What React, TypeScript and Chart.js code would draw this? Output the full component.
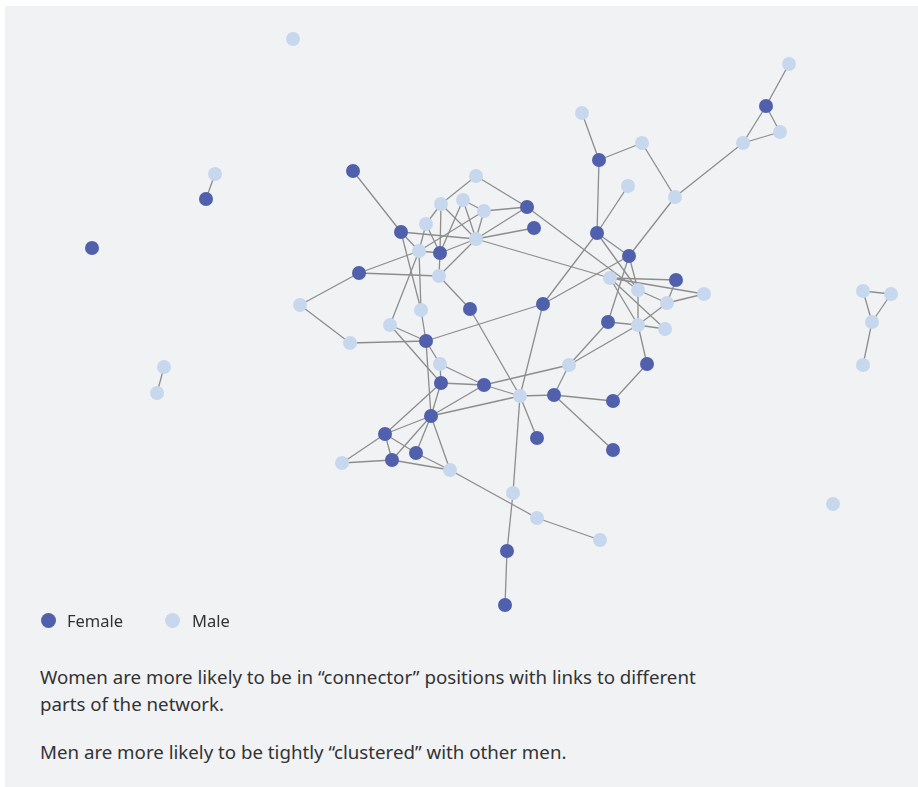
import React, { useEffect, useRef } from "react";
import { Chart, registerables } from "chart.js";

Chart.register(...registerables);

// Node table (layout coordinates)
const nodeIds = ["A","B","C","D","E","F1","G","H","I","J","K","L","N","O","P","Q","R","S","T","U","V","W","X","Y","Z","AA","AB","AC","AD","AE","AF","AG","AH","AI","AJ","AK","AL","AM","AN","AO","AP","AQ","AR","AS","AT","AU","AV","AW","AX","AY","AZ","BA","BB","BC","BD","BE","BF","BG","BH","BI","BJ","BK","BL","BM","BN","BO","BP","BQ","BR","BS","BT","BU"];
const nodeX = [353,476,441,463,484,527,534,426,401,476,419,440,359,439,300,470,543,421,390,350,426,766,780,743,789,582,599,642,628,675,597,629,610,676,638,704,667,608,638,665,647,569,440,441,484,431,385,416,392,342,450,520,554,613,537,613,513,537,600,507,505,293,215,206,92,164,157,863,891,872,863,833];
const nodeY = [171,176,204,200,211,207,228,224,232,239,251,253,273,276,305,309,304,310,325,343,341,106,132,143,64,113,160,143,186,197,233,256,278,280,290,294,303,322,325,329,364,365,364,383,385,416,434,453,460,463,470,396,395,401,438,450,493,518,540,551,605,39,174,199,248,367,393,291,294,322,365,504];
const nodeSex = ["F","M","M","M","M","F","F","M","F","M","M","F","F","M","M","F","F","M","M","M","F","F","M","M","M","M","F","M","M","M","F","F","M","F","M","M","M","F","M","M","F","M","M","F","F","F","F","F","F","M","M","M","F","F","F","F","M","M","M","F","F","M","M","F","F","M","M","M","M","M","M","M"];

const edges: [string, string][] = [
  ["A","I"],["B","C"],["B","F1"],["C","H"],["C","L"],["C","J"],["D","L"],["D","J"],["D","E"],
  ["E","F1"],["E","J"],["E","K"],["F1","J"],["F1","AJ"],["G","J"],["H","L"],["H","K"],["I","K"],
  ["I","J"],["I","S"],["K","S"],["K","T"],["K","N"],["K","L"],["L","O"],["L","J"],["N","O"],
  ["N","P"],["O","J"],["O","Q"],["P","U"],["U","V"],["S","V"],["T","V"],["T","AS"],["V","AR"],
  ["V","AU"],["V","R"],["AR","AS"],["AR","AT"],["AS","AT"],["AS","AU"],["AS","AV"],["AU","AT"],
  ["AU","BA"],["AU","AV"],["AU","AW"],["AU","AX"],["AU","AZ"],["AV","AW"],["AV","AX"],["AV","AY"],
  ["AW","AZ"],["AX","AY"],["AX","AZ"],["AZ","BG"],["BG","BH"],["AT","BA"],["AT","AQ"],["BA","BB"],
  ["BA","BD"],["BA","BF"],["BA","Q"],["BA","R"],["BB","AQ"],["BB","BC"],["BB","BE"],["BC","AP"],
  ["AP","AN"],["AQ","AM"],["AQ","AN"],["AN","AL"],["R","AF"],["R","AG"],["AF","AB"],["AF","AD"],
  ["AF","AG"],["AF","AJ"],["AG","AM"],["AG","AJ"],["AG","AE"],["AB","AA"],["AB","AC"],["AC","AE"],
  ["AE","Y"],["Y","W"],["Y","X"],["W","X"],["W","Z"],["J","AH"],["AH","AI"],["AH","AK"],["AH","AN"],
  ["AH","AO"],["AI","AL"],["AK","AL"],["AJ","AN"],["AJ","AL"],["AM","AN"],["AN","AO"],["BF","BI"],
  ["BI","BJ"],["BL","BM"],["BO","BP"],["BQ","BR"],["BQ","BS"],["BR","BS"],["BS","BT"]
];

const legendLabels = ["Female", "Male"];
const FEMALE = "#5060ad";
const MALE = "#c7d8ee";
const EDGE = "#8d8d8d";

const W = 918;
const H = 640;

function NetworkChart() {
  const ref = useRef<HTMLCanvasElement | null>(null);
  useEffect(() => {
    if (!ref.current) return;
    const pt = (id: string) => {
      const i = nodeIds.indexOf(id);
      return { x: nodeX[i], y: nodeY[i] };
    };
    const edgeSets = edges.map(([a, b]) => ({
      type: "scatter" as const,
      data: [pt(a), pt(b)],
      showLine: true,
      borderColor: EDGE,
      borderWidth: 1.3,
      pointRadius: 0,
      pointHoverRadius: 0,
      order: 2,
    }));
    const nodeSet = (sex: string, color: string, label: string) => ({
      type: "scatter" as const,
      label,
      data: nodeIds.map((id, i) => (nodeSex[i] === sex ? { x: nodeX[i], y: nodeY[i] } : null)).filter(Boolean),
      backgroundColor: color,
      borderWidth: 0,
      pointRadius: 7,
      pointHoverRadius: 7,
      order: 0,
    });
    const chart = new Chart(ref.current, {
      type: "scatter",
      data: {
        datasets: [
          nodeSet("F", FEMALE, legendLabels[0]),
          nodeSet("M", MALE, legendLabels[1]),
          ...edgeSets,
        ] as any,
      },
      options: {
        animation: false,
        responsive: false,
        events: [],
        layout: { padding: 0, autoPadding: false },
        plugins: { legend: { display: false }, tooltip: { enabled: false } },
        scales: {
          x: { type: "linear", min: 0, max: W, display: false },
          y: { type: "linear", min: 0, max: H, reverse: true, display: false },
        },
      },
    });
    return () => chart.destroy();
  }, []);
  return (
    <canvas
      ref={ref}
      width={W}
      height={H}
      style={{ position: "absolute", left: 0, top: 0, width: W, height: H }}
    />
  );
}

export default function App() {
  const font = "'Noto Sans', sans-serif";
  const dot = (c: string) => ({
    display: "inline-block",
    width: 15,
    height: 15,
    borderRadius: "50%",
    background: c,
    position: "absolute" as const,
    top: 613,
  });
  const txt = { position: "absolute" as const, margin: 0, fontFamily: font, fontSize: 18.7, lineHeight: "27px", color: "#333" };
  return (
    <div style={{ position: "absolute", left: 0, top: 0, width: 918, height: 787, overflow: "hidden", background: "#fff" }}>
      <div style={{ position: "absolute", left: 5, top: 6, width: 913, height: 781, background: "#f1f2f4" }} />
      <NetworkChart />
      <span style={{ ...dot(FEMALE), left: 41 }} />
      <span style={{ position: "absolute", left: 67, top: 610, fontFamily: font, fontSize: 16.5, lineHeight: "22px", color: "#333" }}>{legendLabels[0]}</span>
      <span style={{ ...dot(MALE), left: 165 }} />
      <span style={{ position: "absolute", left: 192, top: 610, fontFamily: font, fontSize: 16.5, lineHeight: "22px", color: "#333" }}>{legendLabels[1]}</span>
      <p style={{ ...txt, left: 40, top: 663, width: 672 }}>
        Women are more likely to be in “connector” positions with links to different parts of the network.
      </p>
      <p style={{ ...txt, left: 40, top: 738, width: 672 }}>
        Men are more likely to be tightly “clustered” with other men.
      </p>
    </div>
  );
}
